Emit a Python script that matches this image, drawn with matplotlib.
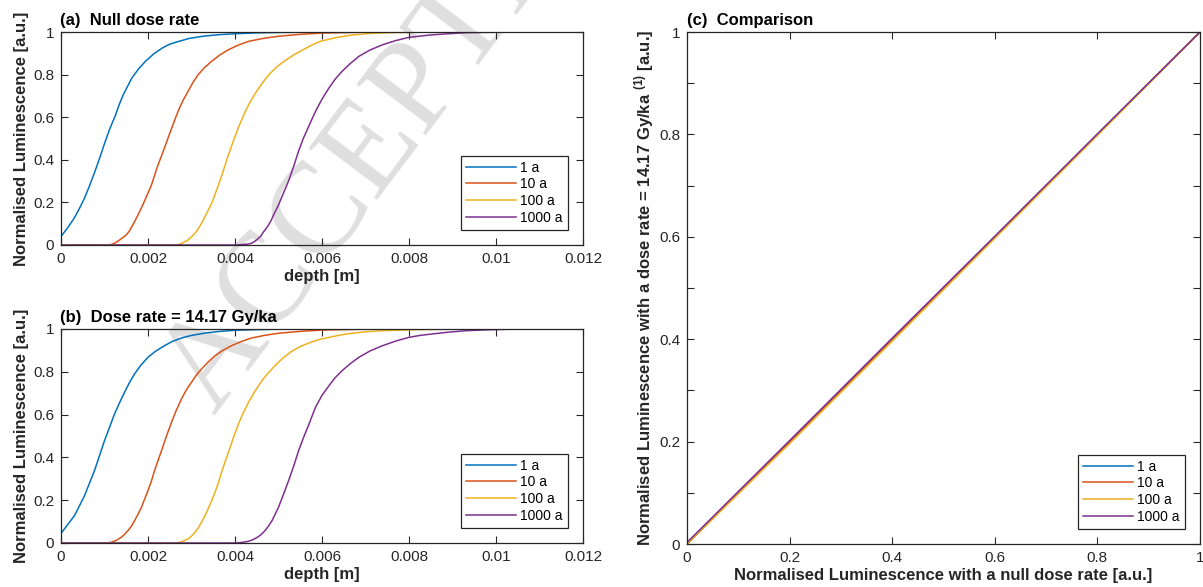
import matplotlib
matplotlib.use("Agg")
import matplotlib.pyplot as plt

plt.rcParams['font.family'] = ['Liberation Sans', 'DejaVu Sans']
plt.rcParams['mathtext.fontset'] = 'custom'
plt.rcParams['mathtext.rm'] = 'Liberation Sans'
plt.rcParams['mathtext.bf'] = 'Liberation Sans:bold'

# ---------------- data ----------------
labels = ['1 a', '10 a', '100 a', '1000 a']
colors = ['#0072BD', '#D95319', '#EDB120', '#7E2F8E']

# depths are given in mm, luminescence normalised
# (a) null dose rate
a1_mm = [0, 0.15, 0.3, 0.42, 0.54, 0.66, 0.78, 0.9, 1.01, 1.12, 1.24, 1.33, 1.43, 1.53, 1.63, 1.78, 1.94, 2.13, 2.33, 2.5, 2.71, 2.95, 3.26, 3.6, 4.03, 4.5, 5.04, 6.0, 12]
a1_y = [0.04, 0.08, 0.125, 0.17, 0.22, 0.28, 0.345, 0.415, 0.482, 0.545, 0.603, 0.655, 0.705, 0.745, 0.784, 0.826, 0.862, 0.897, 0.925, 0.943, 0.956, 0.970, 0.98, 0.987, 0.992, 0.996, 0.998, 1.0, 1.0]
a10_mm = [0, 1.0, 1.15, 1.25, 1.35, 1.5, 1.58, 1.65, 1.77, 1.88, 1.98, 2.08, 2.15, 2.23, 2.35, 2.46, 2.58, 2.69, 2.8, 2.92, 3.03, 3.15, 3.3, 3.46, 3.65, 3.85, 4.07, 4.31, 4.65, 5.0, 5.5, 6.0, 7.0, 8.0, 12]
a10_y = [0, 0, 0.002, 0.01, 0.024, 0.047, 0.068, 0.094, 0.141, 0.188, 0.235, 0.282, 0.326, 0.376, 0.44, 0.502, 0.568, 0.627, 0.677, 0.721, 0.762, 0.799, 0.833, 0.862, 0.892, 0.917, 0.938, 0.956, 0.970, 0.980, 0.989, 0.995, 0.999, 1.0, 1.0]
a100_mm = [0, 2.55, 2.7, 2.8, 2.92, 3.0, 3.08, 3.16, 3.23, 3.35, 3.48, 3.59, 3.7, 3.81, 3.93, 4.06, 4.2, 4.33, 4.47, 4.62, 4.78, 4.98, 5.2, 5.37, 5.55, 5.74, 5.94, 6.3, 6.7, 7.1, 7.6, 8.3, 9.0, 12]
a100_y = [0, 0, 0.002, 0.01, 0.024, 0.038, 0.055, 0.077, 0.102, 0.149, 0.204, 0.265, 0.329, 0.40, 0.470, 0.542, 0.611, 0.665, 0.713, 0.758, 0.80, 0.84, 0.872, 0.895, 0.915, 0.936, 0.955, 0.973, 0.986, 0.993, 0.997, 0.999, 1.0, 1.0]
a1000_mm = [0, 4.0, 4.15, 4.28, 4.38, 4.46, 4.54, 4.6, 4.65, 4.71, 4.77, 4.83, 4.88, 5.0, 5.11, 5.23, 5.35, 5.46, 5.57, 5.69, 5.85, 6.0, 6.16, 6.3, 6.46, 6.65, 6.85, 7.1, 7.39, 7.7, 8.0, 8.54, 9.31, 10.5, 12]
a1000_y = [0, 0, 0.002, 0.004, 0.008, 0.018, 0.031, 0.044, 0.06, 0.076, 0.094, 0.115, 0.138, 0.188, 0.242, 0.30, 0.37, 0.44, 0.50, 0.555, 0.627, 0.685, 0.737, 0.778, 0.815, 0.852, 0.886, 0.915, 0.940, 0.960, 0.975, 0.987, 0.997, 1.0, 1.0]

# (b) dose rate = 14.17 Gy/ka
b1_mm = [0, 0.15, 0.31, 0.42, 0.54, 0.65, 0.77, 0.88, 1.0, 1.12, 1.23, 1.35, 1.46, 1.57, 1.69, 1.84, 2.0, 2.18, 2.38, 2.56, 2.77, 3.0, 3.31, 3.65, 4.0, 4.5, 5.0, 6.0, 12]
b1_y = [0.045, 0.085, 0.128, 0.172, 0.221, 0.277, 0.338, 0.405, 0.478, 0.543, 0.603, 0.657, 0.704, 0.748, 0.79, 0.832, 0.868, 0.897, 0.922, 0.942, 0.958, 0.970, 0.981, 0.989, 0.994, 0.997, 0.999, 1.0, 1.0]
b10_mm = [0, 1.0, 1.15, 1.27, 1.38, 1.46, 1.54, 1.62, 1.69, 1.77, 1.85, 1.92, 2.0, 2.08, 2.15, 2.23, 2.31, 2.42, 2.54, 2.65, 2.77, 2.88, 3.0, 3.11, 3.23, 3.38, 3.54, 3.72, 3.92, 4.15, 4.38, 4.7, 5.0, 5.5, 6.0, 7.0, 8.0, 12]
b10_y = [0, 0, 0.003, 0.012, 0.026, 0.04, 0.058, 0.079, 0.104, 0.134, 0.167, 0.204, 0.245, 0.29, 0.338, 0.385, 0.431, 0.497, 0.564, 0.62, 0.673, 0.715, 0.751, 0.784, 0.813, 0.845, 0.875, 0.9, 0.922, 0.942, 0.958, 0.971, 0.98, 0.989, 0.995, 0.999, 1.0, 1.0]
b100_mm = [0, 2.55, 2.69, 2.8, 2.92, 3.0, 3.08, 3.16, 3.23, 3.31, 3.38, 3.46, 3.54, 3.62, 3.69, 3.77, 3.85, 3.96, 4.08, 4.19, 4.31, 4.46, 4.62, 4.77, 4.92, 5.1, 5.3, 5.5, 5.7, 5.9, 6.1, 6.35, 6.6, 7.0, 7.39, 8.0, 8.54, 9.5, 12]
b100_y = [0, 0, 0.001, 0.008, 0.019, 0.032, 0.05, 0.072, 0.097, 0.127, 0.159, 0.196, 0.237, 0.283, 0.33, 0.378, 0.424, 0.49, 0.556, 0.608, 0.657, 0.71, 0.759, 0.796, 0.829, 0.864, 0.895, 0.918, 0.935, 0.949, 0.958, 0.969, 0.978, 0.987, 0.992, 0.996, 0.998, 1.0, 1.0]
b1000_mm = [0, 3.95, 4.08, 4.2, 4.31, 4.43, 4.54, 4.62, 4.69, 4.77, 4.85, 4.92, 5.0, 5.11, 5.23, 5.35, 5.46, 5.57, 5.69, 5.85, 6.0, 6.16, 6.3, 6.46, 6.65, 6.85, 7.1, 7.39, 7.7, 8.0, 8.25, 8.54, 8.9, 9.31, 9.8, 10.46, 12]
b1000_y = [0, 0, 0.001, 0.004, 0.008, 0.017, 0.03, 0.043, 0.058, 0.079, 0.104, 0.133, 0.167, 0.225, 0.29, 0.36, 0.43, 0.49, 0.55, 0.634, 0.69, 0.735, 0.772, 0.805, 0.838, 0.868, 0.897, 0.922, 0.944, 0.961, 0.97, 0.977, 0.985, 0.992, 0.996, 1.0, 1.0]

# (c) comparison
c_x = [0, 0.2, 0.4, 0.6, 0.8, 1.0]
c1_y = [0, 0.2, 0.4, 0.6, 0.8, 1.0]
c10_y = [0, 0.199, 0.399, 0.599, 0.799, 1.0]
c100_y = [0, 0.196, 0.396, 0.597, 0.798, 1.0]
c1000_y = [0.003, 0.202, 0.402, 0.601, 0.801, 1.0]

depth_ticks = [0, 0.002, 0.004, 0.006, 0.008, 0.010, 0.012]
depth_ticklabels = ['0', '0.002', '0.004', '0.006', '0.008', '0.01', '0.012']
lum_ticks = [0, 0.2, 0.4, 0.6, 0.8, 1.0]
lum_ticklabels = ['0', '0.2', '0.4', '0.6', '0.8', '1']
comp_yticks = [0, 0.1, 0.2, 0.3, 0.4, 0.5, 0.6, 0.7, 0.8, 0.9, 1.0]
comp_yticklabels = ['0', '', '0.2', '', '0.4', '', '0.6', '', '0.8', '', '1']

# ---------------- figure ----------------
W, H = 1203, 587
fig = plt.figure(figsize=(W / 100, H / 100), dpi=100)

def box(l, t, r, b):
    return [l / W, 1 - b / H, (r - l) / W, (b - t) / H]

axc = '#262626'
tick_fs = 11
lab_fs = 12
title_fs = 12

def style(ax):
    ax.set_facecolor('none')
    for s in ax.spines.values():
        s.set_color(axc)
        s.set_linewidth(0.9)
    ax.tick_params(direction='in', length=5, width=0.8, colors=axc,
                   labelsize=tick_fs, top=True, right=True, pad=5)

def add_legend(ax, handles):
    leg = ax.legend(handles, labels, loc='lower right', fontsize=10,
                    frameon=True, fancybox=False, framealpha=1, edgecolor=axc,
                    handlelength=3.6, handletextpad=0.3, labelspacing=0.2,
                    borderpad=0.35, borderaxespad=1.1)
    leg.get_frame().set_linewidth(0.9)
    return leg

# Watermark (behind everything)
fig.text(214 / W, 1 - 415 / H, 'ACCEPTE', rotation=53,
         rotation_mode='anchor', ha='left', va='baseline',
         fontsize=94, family='Liberation Serif', color='#dfdfdf', zorder=-5)

panels = [
    (box(61, 32, 583, 245), '(a)  Null dose rate',
     [(a1_mm, a1_y), (a10_mm, a10_y), (a100_mm, a100_y), (a1000_mm, a1000_y)]),
    (box(61, 329, 583, 543), '(b)  Dose rate = 14.17 Gy/ka',
     [(b1_mm, b1_y), (b10_mm, b10_y), (b100_mm, b100_y), (b1000_mm, b1000_y)]),
]

for pos, title, series in panels:
    ax = fig.add_axes(pos)
    style(ax)
    hs = []
    for (xs, ys), c in zip(series, colors):
        h, = ax.plot([d * 1e-3 for d in xs], ys, color=c, lw=1.1)
        hs.append(h)
    ax.set_xlim(0, 0.012)
    ax.set_ylim(0, 1)
    ax.set_xticks(depth_ticks)
    ax.set_xticklabels(depth_ticklabels)
    ax.set_yticks(lum_ticks)
    ax.set_yticklabels(lum_ticklabels)
    ax.set_xlabel('depth [m]', fontsize=lab_fs, fontweight='bold', color=axc, labelpad=2)
    ax.set_ylabel('Normalised Luminescence [a.u.]', fontsize=lab_fs, fontweight='bold',
                  color=axc, labelpad=3)
    ax.set_title(title, loc='left', fontsize=title_fs, fontweight='bold', pad=5, x=-0.002)
    add_legend(ax, hs)

axc3 = fig.add_axes(box(687, 32, 1200, 544))
style(axc3)
hs = []
for ys, c in zip([c1_y, c10_y, c100_y, c1000_y], colors):
    h, = axc3.plot(c_x, ys, color=c, lw=1.1)
    hs.append(h)
axc3.set_xlim(0, 1)
axc3.set_ylim(0, 1)
axc3.set_xticks(lum_ticks)
axc3.set_xticklabels(lum_ticklabels)
axc3.set_yticks(comp_yticks)
axc3.set_yticklabels(comp_yticklabels)
axc3.set_xlabel('Normalised Luminescence with a null dose rate [a.u.]', fontsize=lab_fs,
                fontweight='bold', color=axc, labelpad=2)
axc3.set_ylabel(r'Normalised Luminescence with a dose rate = 14.17 Gy/ka $^{\mathbf{(1)}}$ [a.u.]',
                fontsize=lab_fs, fontweight='bold', color=axc, labelpad=2)
axc3.set_title('(c)  Comparison', loc='left', fontsize=title_fs, fontweight='bold', pad=5, x=0.0)
add_legend(axc3, hs)

fig.savefig('out.png', dpi=100)
